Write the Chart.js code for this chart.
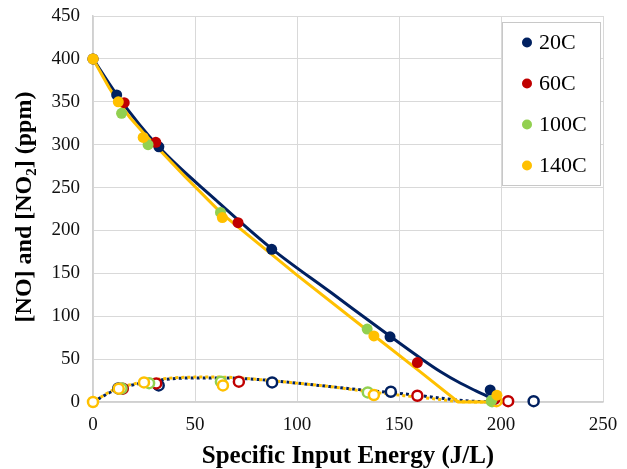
<!DOCTYPE html>
<html>
<head>
<meta charset="utf-8">
<script src="https://cdn.jsdelivr.net/npm/chart.js@4.4.0/dist/chart.umd.min.js"></script>
<style>
  html, body { margin: 0; padding: 0; background: #fff; }
</style>
</head>
<body>
<canvas id="chart" width="627" height="469"></canvas>
<script>
// series names / colours (legend order)
const seriesNames = ['20C', '60C', '100C', '140C'];
const seriesColors = ['#002060', '#C00000', '#92D050', '#FFC000'];

// [NO] measurements (filled markers)
const sieNO_20 = [0, 11.6, 32.3, 87.6, 145.6, 194.7];
const no_20 = [400, 358, 297.5, 178, 76, 14];
const sieNO_60 = [0, 15.3, 30.8, 71.1, 159, 197];
const no_60 = [400, 349, 302.7, 209, 46, 3];
const sieNO_100 = [0, 14, 27, 62.5, 134.4, 195.5];
const no_100 = [400, 336.5, 300, 221, 85, 2];
const sieNO_140 = [0, 12.4, 24.6, 63.4, 137.7, 198];
const no_140 = [400, 350, 308.5, 215, 77, 8];

// [NO2] measurements (hollow markers)
const sieNO2_20 = [12.4, 32.2, 87.8, 146, 216];
const no2_20 = [15.8, 19.3, 22.8, 12, 1];
const sieNO2_60 = [14.6, 31, 71.5, 159, 203.5];
const no2_60 = [15.5, 21.7, 23.7, 7.3, 1];
const sieNO2_100 = [14, 27.5, 62.7, 134.7, 195.6];
const no2_100 = [15.8, 22, 23.7, 11.2, 1];
const sieNO2_140 = [0, 12.6, 25, 63.7, 137.7, 197.8];
const no2_140 = [0, 15.5, 22.8, 19.3, 8.2, 1];

// model curves, 20C and 140C
const fitNOx_20 = [0, 12, 32, 60, 88, 117, 146, 160.6, 170.4, 180.2, 186.8, 191.7, 194.5];
const fitNO_20 = [400, 357, 298, 236, 178, 127, 76, 51, 35.3, 21.8, 14, 8.5, 5];
const fitNOx_140 = [0, 4, 8, 12, 18, 25, 35, 45, 63, 100, 138, 160, 179, 197];
const fitNO_140 = [400, 383, 366, 351, 332, 313, 288, 263, 220, 148, 77, 36, 0, 0];
const fitNO2x_20 = [0, 10, 18, 34, 50, 65, 82, 100, 116, 132, 146, 160, 172, 182, 195];
const fitNO2_20 = [0, 13, 19, 26, 28, 28, 26, 22, 18, 14, 11, 7.5, 4, 1.5, 0];
const fitNO2x_140 = [0, 10, 18, 34, 50, 62, 82, 100, 116, 132, 154, 170, 180, 197];
const fitNO2_140 = [0, 14, 20, 27, 29, 29, 26, 22, 18, 13, 7, 3, 0.5, 0];

const serif = "'Liberation Serif', 'Times New Roman', serif";

function pts(xs, ys) {
  return xs.map((x, i) => ({ x: x, y: ys[i] }));
}

const noX = [sieNO_20, sieNO_60, sieNO_100, sieNO_140];
const noY = [no_20, no_60, no_100, no_140];
const no2X = [sieNO2_20, sieNO2_60, sieNO2_100, sieNO2_140];
const no2Y = [no2_20, no2_60, no2_100, no2_140];

const datasets = [];

// markers: later series sit on top, not clipped at the axes
seriesNames.forEach((name, i) => {
  datasets.push({
    label: name,
    data: pts(noX[i], noY[i]),
    showLine: false,
    clip: false,
    pointRadius: 5.5,
    pointHoverRadius: 5.5,
    pointBorderWidth: 0,
    pointBackgroundColor: seriesColors[i],
    order: 10 - i
  });
  datasets.push({
    label: name + ' NO2',
    data: pts(no2X[i], no2Y[i]),
    showLine: false,
    clip: false,
    pointRadius: 5,
    pointHoverRadius: 5,
    pointBorderWidth: 2.5,
    pointBorderColor: seriesColors[i],
    pointBackgroundColor: '#ffffff',
    order: 20 - i
  });
});

function curve(xs, ys, color, dotted, ord) {
  return {
    label: 'fit',
    data: pts(xs, ys),
    showLine: true,
    clip: false,
    borderColor: color,
    borderWidth: 3,
    borderDash: dotted ? [3, 3] : [],
    borderDashOffset: 0,
    pointRadius: 0,
    cubicInterpolationMode: 'monotone',
    fill: false,
    order: ord
  };
}

datasets.push(curve(fitNOx_20, fitNO_20, seriesColors[0], false, 31));
// 140C fit is straight down to zero, then flat
datasets.push(Object.assign(curve(fitNOx_140, fitNO_140, seriesColors[3], false, 30), { cubicInterpolationMode: 'default', tension: 0 }));
datasets.push(curve(fitNO2x_20, fitNO2_20, seriesColors[0], true, 33));
datasets.push(Object.assign(curve(fitNO2x_140, fitNO2_140, seriesColors[3], true, 32), { borderDashOffset: 3 }));

// axis titles (y title needs a subscript) and the boxed legend
const decorations = {
  id: 'decorations',
  afterDraw(chart) {
    const ctx = chart.ctx;
    const area = chart.chartArea;
    ctx.save();
    ctx.fillStyle = '#000';

    // x title
    ctx.font = 'bold 25px ' + serif;
    ctx.textAlign = 'center';
    ctx.textBaseline = 'alphabetic';
    ctx.fillText('Specific Input Energy (J/L)', (area.left + area.right) / 2, 463);

    // y title, rotated
    const parts = [
      { t: '[NO] and [NO', f: 'bold 24px ' + serif, dy: 0 },
      { t: '2', f: 'bold 15px ' + serif, dy: 5 },
      { t: '] (ppm)', f: 'bold 24px ' + serif, dy: 0 }
    ];
    let total = 0;
    parts.forEach(p => { ctx.font = p.f; p.w = ctx.measureText(p.t).width; total += p.w; });
    ctx.translate(31, 207);
    ctx.rotate(-Math.PI / 2);
    ctx.textAlign = 'left';
    let x = -total / 2;
    parts.forEach(p => {
      ctx.font = p.f;
      ctx.fillText(p.t, x, p.dy);
      x += p.w;
    });
    ctx.restore();

    // legend box
    ctx.save();
    ctx.fillStyle = '#ffffff';
    ctx.fillRect(502.5, 22.5, 98, 163);
    ctx.strokeStyle = '#C8C8C8';
    ctx.lineWidth = 1;
    ctx.strokeRect(502.5, 22.5, 98, 163);
    ctx.font = '22px ' + serif;
    ctx.textAlign = 'left';
    ctx.textBaseline = 'middle';
    seriesNames.forEach((name, i) => {
      const y = 42.5 + i * 41;
      ctx.beginPath();
      ctx.arc(527, y, 5, 0, Math.PI * 2);
      ctx.fillStyle = seriesColors[i];
      ctx.fill();
      ctx.fillStyle = '#000';
      ctx.fillText(name, 539, y + 1);
    });
    ctx.restore();
  }
};

new Chart(document.getElementById('chart'), {
  type: 'scatter',
  data: { datasets: datasets },
  options: {
    responsive: false,
    animation: false,
    layout: { padding: { top: 16, right: 24, left: 0, bottom: 0 } },
    plugins: {
      legend: { display: false },
      tooltip: { enabled: false }
    },
    scales: {
      x: {
        type: 'linear',
        min: 0,
        max: 250,
        ticks: { stepSize: 50, color: '#111', font: { family: serif, size: 19 }, padding: 12 },
        grid: { color: '#D9D9D9', lineWidth: 1, drawTicks: false },
        border: { color: '#D0D0D0', width: 1.5 },
        afterFit(scale) { scale.height = 67; scale.paddingLeft = 0; scale.paddingRight = 0; }
      },
      y: {
        type: 'linear',
        min: 0,
        max: 450,
        ticks: { stepSize: 50, color: '#111', font: { family: serif, size: 19 }, padding: 13 },
        grid: { color: '#D9D9D9', lineWidth: 1, drawTicks: false },
        border: { color: '#D0D0D0', width: 1.5 },
        afterFit(scale) { scale.width = 93; scale.paddingTop = 0; scale.paddingBottom = 0; }
      }
    }
  },
  plugins: [decorations]
});
</script>
</body>
</html>
